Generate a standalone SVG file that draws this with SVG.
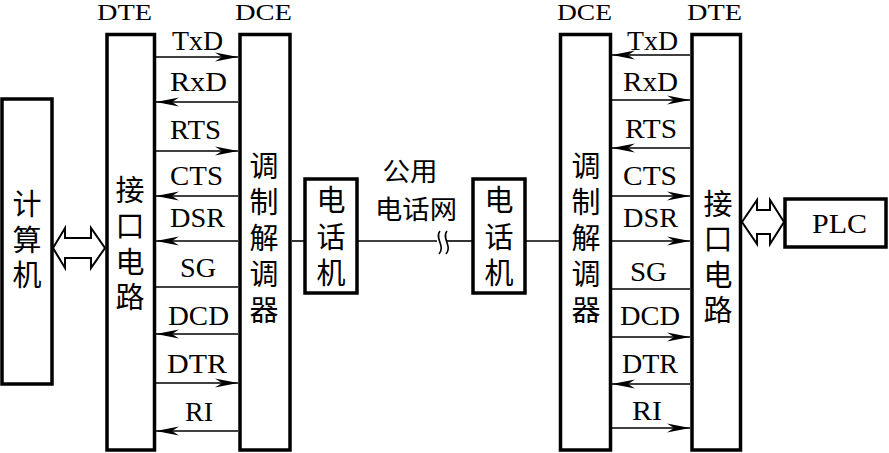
<svg xmlns="http://www.w3.org/2000/svg" width="889" height="453" viewBox="0 0 889 453">
<style>
.box{fill:none;stroke:#000;stroke-width:3.5}
.sig{fill:none;stroke:#000;stroke-width:1.6}
.lat{font-family:"Liberation Serif","Times New Roman",serif;font-size:27px;fill:#000;text-anchor:middle}
.top{font-family:"Liberation Serif","Times New Roman",serif;font-size:24px;fill:#000;text-anchor:middle}
.cjk{font-family:"Noto Sans CJK SC",sans-serif;font-size:26px;fill:#000;text-anchor:middle;dominant-baseline:central}
.vt{font-family:"Noto Sans CJK SC",sans-serif;font-size:29px;fill:#000;writing-mode:vertical-rl;text-anchor:start;letter-spacing:6.8px}
.dbl{fill:#fff;stroke:#000;stroke-width:2;stroke-linejoin:miter}
</style>
<defs>
<marker id="ah" markerUnits="userSpaceOnUse" markerWidth="30" markerHeight="12" viewBox="-24 -6 26 12" refX="0" refY="0" orient="auto">
<path d="M0,0 L-23,-4.5 L-16,0 L-23,4.5 Z" fill="#000"/>
</marker>
</defs>

<g id="computer">
<rect class="box" x="2" y="99" width="50" height="285"/>
<text class="vt" x="27" y="189.5" style="letter-spacing:6.5px">计算机</text>
</g>

<g id="dte-left">
<rect class="box" x="107" y="34.5" width="47.5" height="415.5"/>
<text class="top" x="124.5" y="20" textLength="55" lengthAdjust="spacingAndGlyphs">DTE</text>
<text class="vt" x="130" y="175.5">接口电路</text>
</g>

<g id="dce-left">
<rect class="box" x="240" y="34.5" width="50" height="415.5"/>
<text class="top" x="263.5" y="20" textLength="57" lengthAdjust="spacingAndGlyphs">DCE</text>
<text class="vt" x="264" y="151.5" style="letter-spacing:7px">调制解调器</text>
</g>

<g id="phone-left">
<rect class="box" x="305" y="179" width="52" height="114"/>
<text class="vt" x="331" y="185.5" style="letter-spacing:7.5px">电话机</text>
</g>

<g id="network-label">
<text class="cjk" x="410" y="169.5" textLength="55" lengthAdjust="spacingAndGlyphs">公用</text>
<text class="cjk" x="416" y="207" textLength="82" lengthAdjust="spacingAndGlyphs">电话网</text>
</g>

<g id="phone-right">
<rect class="box" x="473" y="179" width="52" height="114"/>
<text class="vt" x="499" y="185.5" style="letter-spacing:7.5px">电话机</text>
</g>

<g id="dce-right">
<rect class="box" x="560.5" y="34.5" width="50" height="415.5"/>
<text class="top" x="584.5" y="20" textLength="55" lengthAdjust="spacingAndGlyphs">DCE</text>
<text class="vt" x="586" y="151.5" style="letter-spacing:7px">调制解调器</text>
</g>

<g id="dte-right">
<rect class="box" x="692" y="34.5" width="48.5" height="415.5"/>
<text class="top" x="714.5" y="20" textLength="55" lengthAdjust="spacingAndGlyphs">DTE</text>
<text class="vt" x="718" y="189.5" style="letter-spacing:6.4px">接口电路</text>
</g>

<g id="plc">
<rect class="box" x="785" y="199" width="101" height="48"/>
<text class="lat" x="839.5" y="233" style="font-size:28px" textLength="55" lengthAdjust="spacingAndGlyphs">PLC</text>
</g>

<g id="signal-labels">
<text class="lat" x="197.5" y="50" textLength="51" lengthAdjust="spacingAndGlyphs">TxD</text>
<text class="lat" x="198.5" y="91" textLength="57" lengthAdjust="spacingAndGlyphs">RxD</text>
<text class="lat" x="195.5" y="139" textLength="51" lengthAdjust="spacingAndGlyphs">RTS</text>
<text class="lat" x="196.5" y="185" textLength="53" lengthAdjust="spacingAndGlyphs">CTS</text>
<text class="lat" x="197.5" y="227" textLength="55" lengthAdjust="spacingAndGlyphs">DSR</text>
<text class="lat" x="198" y="277" textLength="36" lengthAdjust="spacingAndGlyphs">SG</text>
<text class="lat" x="198.5" y="325" textLength="61" lengthAdjust="spacingAndGlyphs">DCD</text>
<text class="lat" x="197" y="373" textLength="60" lengthAdjust="spacingAndGlyphs">DTR</text>
<text class="lat" x="199" y="421" textLength="28" lengthAdjust="spacingAndGlyphs">RI</text>

<text class="lat" x="652.5" y="50" textLength="51" lengthAdjust="spacingAndGlyphs">TxD</text>
<text class="lat" x="650.5" y="91" textLength="55" lengthAdjust="spacingAndGlyphs">RxD</text>
<text class="lat" x="651" y="138" textLength="52" lengthAdjust="spacingAndGlyphs">RTS</text>
<text class="lat" x="650" y="185" textLength="54" lengthAdjust="spacingAndGlyphs">CTS</text>
<text class="lat" x="650.5" y="227" textLength="55" lengthAdjust="spacingAndGlyphs">DSR</text>
<text class="lat" x="648.5" y="281" textLength="37" lengthAdjust="spacingAndGlyphs">SG</text>
<text class="lat" x="650" y="325" textLength="60" lengthAdjust="spacingAndGlyphs">DCD</text>
<text class="lat" x="650" y="373" textLength="56" lengthAdjust="spacingAndGlyphs">DTR</text>
<text class="lat" x="647" y="420" textLength="30" lengthAdjust="spacingAndGlyphs">RI</text>
</g>

<g id="connectors">
<line class="sig" x1="156" y1="57" x2="238" y2="57" marker-end="url(#ah)"/>
<line class="sig" x1="238" y1="102" x2="156" y2="102" marker-end="url(#ah)"/>
<line class="sig" x1="156" y1="151" x2="238" y2="151" marker-end="url(#ah)"/>
<line class="sig" x1="238" y1="196" x2="156" y2="196" marker-end="url(#ah)"/>
<line class="sig" x1="238" y1="241" x2="156" y2="241" marker-end="url(#ah)"/>
<line class="sig" x1="156" y1="287" x2="238" y2="287"/>
<line class="sig" x1="238" y1="334" x2="156" y2="334" marker-end="url(#ah)"/>
<line class="sig" x1="156" y1="383" x2="238" y2="383" marker-end="url(#ah)"/>
<line class="sig" x1="238" y1="431" x2="156" y2="431" marker-end="url(#ah)"/>
<line class="sig" x1="690" y1="55" x2="612" y2="55" marker-end="url(#ah)"/>
<line class="sig" x1="612" y1="100" x2="690" y2="100" marker-end="url(#ah)"/>
<line class="sig" x1="690" y1="148" x2="612" y2="148" marker-end="url(#ah)"/>
<line class="sig" x1="612" y1="196" x2="690" y2="196" marker-end="url(#ah)"/>
<line class="sig" x1="612" y1="241" x2="690" y2="241" marker-end="url(#ah)"/>
<line class="sig" x1="612" y1="289" x2="690" y2="289"/>
<line class="sig" x1="612" y1="337" x2="690" y2="337" marker-end="url(#ah)"/>
<line class="sig" x1="690" y1="384" x2="612" y2="384" marker-end="url(#ah)"/>
<line class="sig" x1="612" y1="428" x2="690" y2="428" marker-end="url(#ah)"/>
<line class="sig" x1="292" y1="241" x2="304" y2="241"/>
<line class="sig" x1="358" y1="241" x2="437" y2="241"/>
<line class="sig" x1="447" y1="241" x2="472" y2="241"/>
<line class="sig" x1="526" y1="241" x2="559" y2="241"/>
<path class="sig" d="M440,231 C434,238 446,246 439,254"/>
<path class="sig" d="M447,231 C441,238 453,246 446,254"/>
<path class="dbl" d="M53,248 L65,228 L65,238 L91,238 L91,228 L105,248 L91,268 L91,258 L65,258 L65,268 Z"/>
<path class="dbl" d="M742,222 L757,200 L757,210 L770,210 L770,200 L784,222 L770,244 L770,234 L757,234 L757,244 Z"/>
</g>
</svg>
